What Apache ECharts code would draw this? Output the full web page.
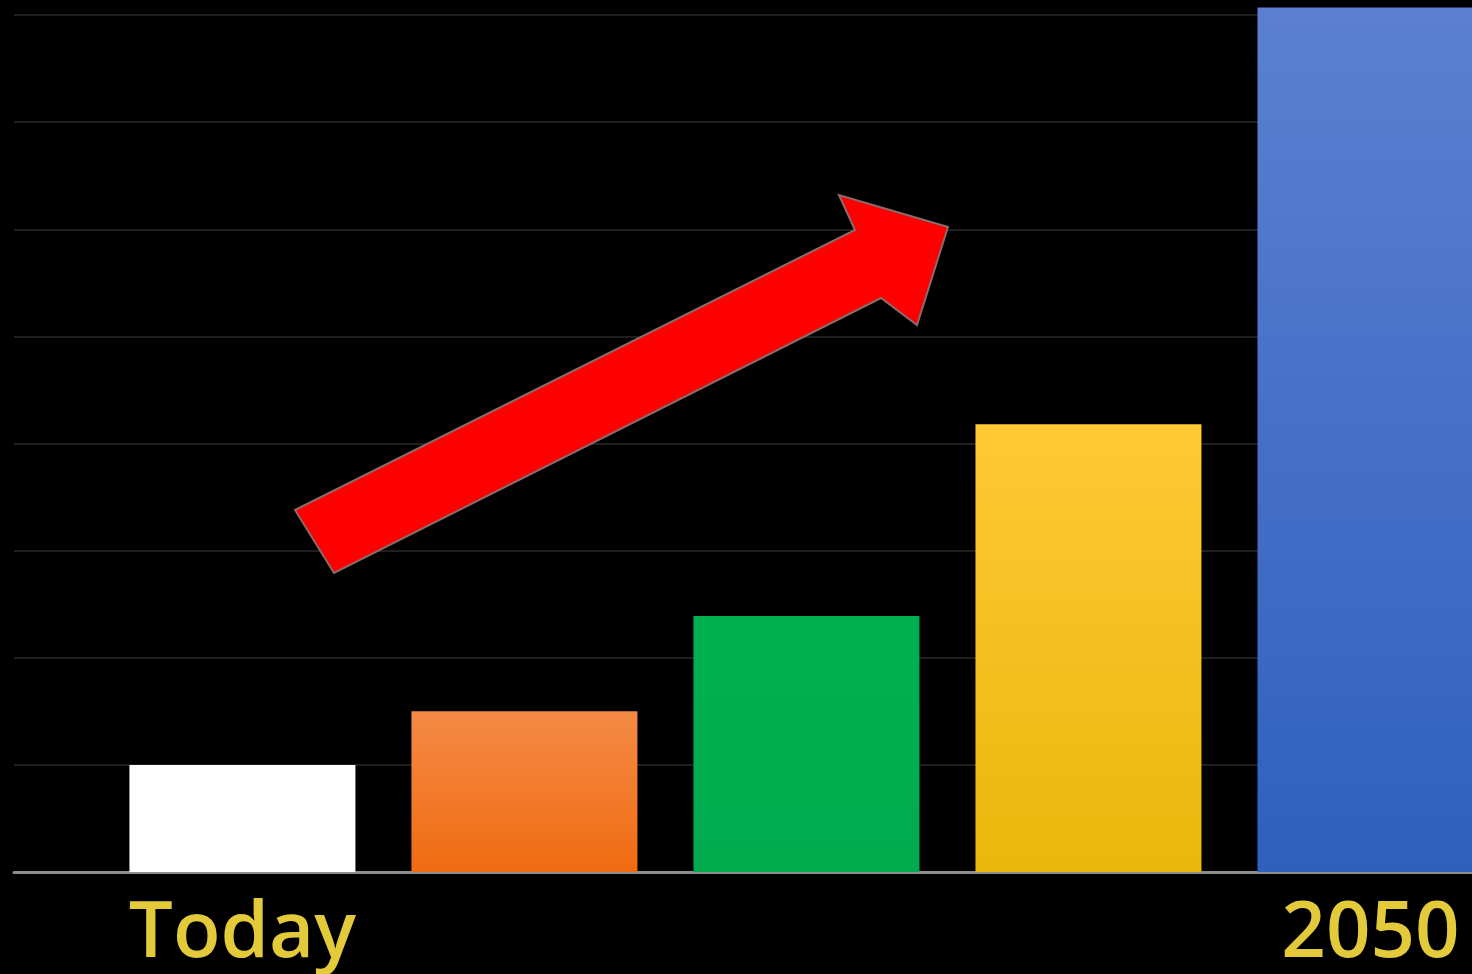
<!DOCTYPE html>
<html>
<head>
<meta charset="utf-8">
<script src="https://cdn.jsdelivr.net/npm/echarts@6/dist/echarts.min.js"></script>
<style>
  html, body { margin: 0; padding: 0; background: #000; }
  #chart { width: 1472px; height: 974px; }
</style>
</head>
<body>
<div id="chart"></div>
<script>
// data
var categories = ['Today', '', '', '', '2050'];
var values = [1, 1.5, 2.39, 4.18, 8.07];
var topColors = ['#ffffff', '#f48a45', '#00b050', '#ffc934', '#5b80d0'];
var bottomColors = ['#ffffff', '#f06b12', '#00ab4e', '#e9b70c', '#2f60be'];
var yTicks = [0, 1, 2, 3, 4, 5, 6, 7, 8];

var chart = echarts.init(document.getElementById('chart'));

var barData = [];
for (var i = 0; i < values.length; i++) {
  barData.push({
    value: [i, values[i]],
    itemStyle: {
      color: new echarts.graphic.LinearGradient(0, 0, 0, 1, [
        { offset: 0, color: topColors[i] },
        { offset: 1, color: bottomColors[i] }
      ])
    }
  });
}

var option = {
  backgroundColor: '#000',
  animation: false,
  grid: { left: 14, right: 0, top: 15, bottom: 101 },
  xAxis: {
    type: 'value',
    min: -0.81,
    max: 4.36,
    splitLine: { show: false },
    axisTick: { show: false },
    axisLine: { show: true, onZero: false, lineStyle: { color: '#8c8c8c', width: 3 } },
    axisLabel: {
      customValues: [0, 4],
      margin: 24,
      color: '#e2ca3a',
      fontSize: 78,
      fontWeight: 600,
      fontFamily: 'Open Sans',
      formatter: function (v) { return categories[Math.round(v)]; }
    }
  },
  yAxis: {
    type: 'value',
    min: yTicks[0],
    max: yTicks[yTicks.length - 1],
    interval: 1,
    axisLabel: { show: false },
    axisLine: { show: false },
    axisTick: { show: false },
    splitLine: { lineStyle: { color: '#1f1f1f', width: 2 } }
  },
  graphic: [{
    type: 'polygon',
    z: 100,
    shape: {
      points: [[295, 510], [855, 230], [839, 195], [948, 227], [917, 325], [881, 298], [334, 573]]
    },
    style: { fill: '#ff0000', stroke: '#8a6a6a', lineWidth: 2 }
  }],
  series: [{
    type: 'bar',
    barWidth: 226,
    clip: false,
    data: barData
  }]
};

chart.setOption(option);
</script>
</body>
</html>
